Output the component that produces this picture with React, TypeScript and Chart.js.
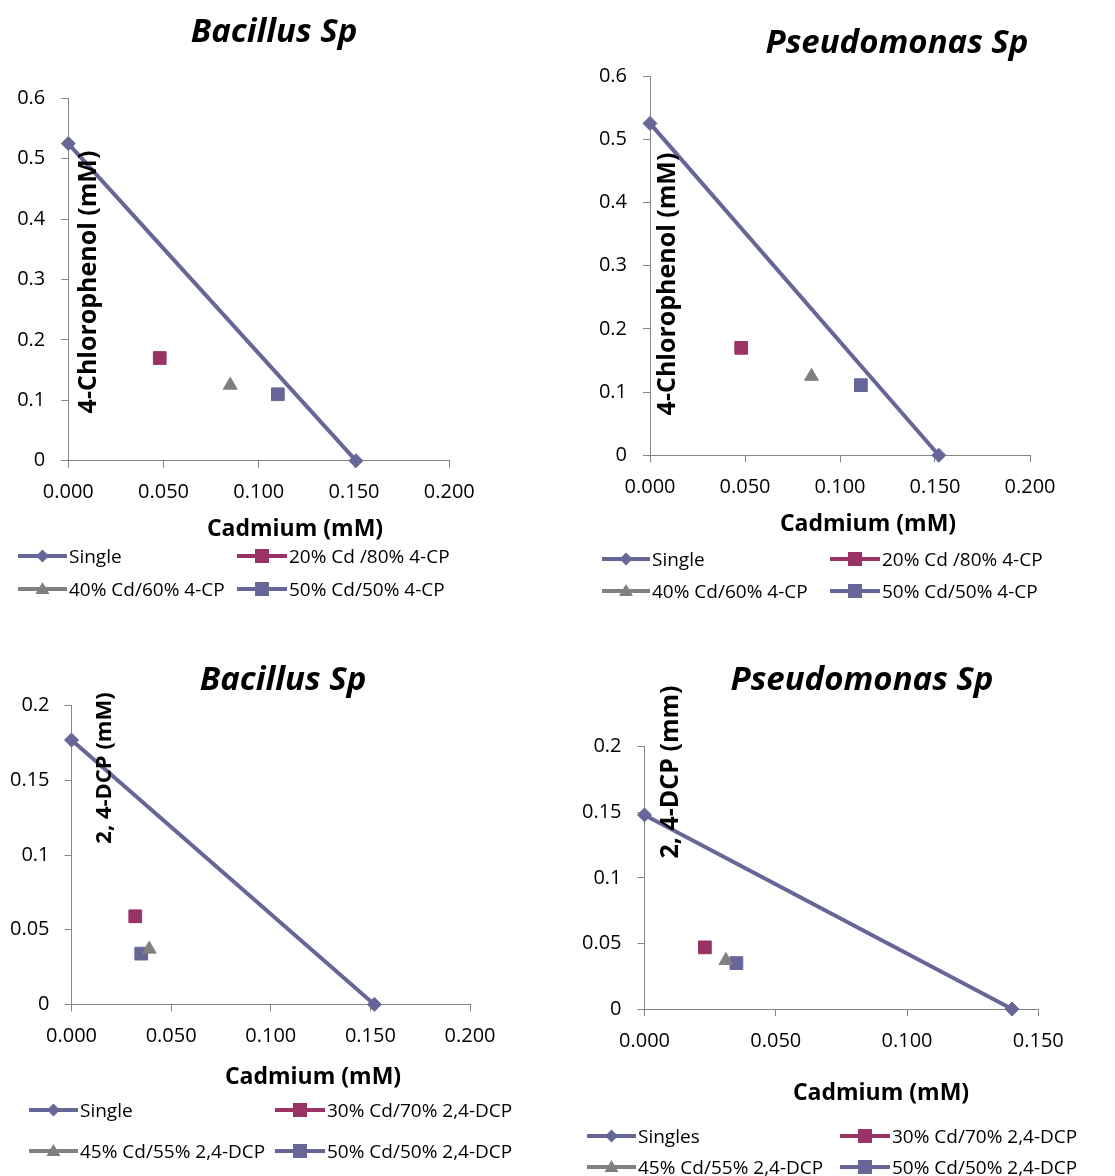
import React, { useEffect, useRef } from "react";
import { Chart, registerables } from "chart.js";

Chart.register(...registerables);

// ---------------- data ----------------
// Panel 1 – Bacillus Sp, Cd vs 4-CP
const bac4cpSingleCd = [0, 0.151];
const bac4cpSingleCP = [0.525, 0];
const bac4cpMixCd = [0.048, 0.085, 0.110];
const bac4cpMixCP = [0.170, 0.125, 0.110];

// Panel 2 – Pseudomonas Sp, Cd vs 4-CP
const pse4cpSingleCd = [0, 0.152];
const pse4cpSingleCP = [0.525, 0];
const pse4cpMixCd = [0.048, 0.085, 0.111];
const pse4cpMixCP = [0.170, 0.125, 0.111];

// Panel 3 – Bacillus Sp, Cd vs 2,4-DCP
const bacDcpSingleCd = [0, 0.152];
const bacDcpSingleDCP = [0.177, 0];
const bacDcpMixCd = [0.032, 0.039, 0.035];
const bacDcpMixDCP = [0.059, 0.037, 0.034];

// Panel 4 – Pseudomonas Sp, Cd vs 2,4-DCP
const pseDcpSingleCd = [0, 0.14];
const pseDcpSingleDCP = [0.148, 0];
const pseDcpMixCd = [0.023, 0.031, 0.035];
const pseDcpMixDCP = [0.047, 0.037, 0.035];

// labels
const legend4CP = ["Single", "20% Cd /80% 4-CP", "40% Cd/60% 4-CP", "50% Cd/50% 4-CP"];
const legendDcpBac = ["Single", "30% Cd/70% 2,4-DCP", "45% Cd/55% 2,4-DCP", "50% Cd/50% 2,4-DCP"];
const legendDcpPse = ["Singles", "30% Cd/70% 2,4-DCP", "45% Cd/55% 2,4-DCP", "50% Cd/50% 2,4-DCP"];
const panelTitles = ["Bacillus Sp", "Pseudomonas Sp", "Bacillus Sp", "Pseudomonas Sp"];
const xAxisTitle = "Cadmium (mM)";
const yAxisTitles = ["4-Chlorophenol (mM)", "4-Chlorophenol (mM)", "2, 4-DCP (mM)", "2, 4-DCP (mm)"];

// axis ranges / tick steps
const xMaxes = [0.2, 0.2, 0.2, 0.15];
const xStep = 0.05;
const yMaxes = [0.6, 0.6, 0.2, 0.2];
const ySteps = [0.1, 0.1, 0.05, 0.05];

// ---------------- styling ----------------
const FONT = "'Open Sans', 'DejaVu Sans', sans-serif";
const AXIS_GREY = "#868686";
const seriesColors = ["#666699", "#993366", "#808080", "#666699"];
const pointStyles = ["rectRot", "rect", "triangle", "rect"];
const pointRadii = [7, 9, 8, 9];
const X_AXIS_H = 50;

type Area = { l: number; r: number; t: number; b: number };
type TextItem = { text: string; x: number; y: number; font: string; rotate?: boolean };

const panelLayout = [
  {
    ox: 0, oy: 0, w: 557, h: 615,
    area: { l: 68.3, r: 449.3, t: 98.3, b: 460.7 },
    title: { x: 274, y: 42 }, xTitle: { x: 295, y: 536 }, yTitle: { x: 96, y: 282, size: 25 },
    xPad: 13, yPad: 16,
    legend: { rows: [556, 589], cols: [{ line: 18, text: 69 }, { line: 237, text: 289 }] },
  },
  {
    ox: 557, oy: 0, w: 558, h: 615,
    area: { l: 650, r: 1030, t: 76, b: 455.3 },
    title: { x: 897, y: 53 }, xTitle: { x: 868, y: 531 }, yTitle: { x: 675, y: 284, size: 25 },
    xPad: 13, yPad: 16,
    legend: { rows: [559, 591], cols: [{ line: 602, text: 652 }, { line: 830, text: 882 }] },
  },
  {
    ox: 0, oy: 620, w: 557, h: 556,
    area: { l: 71.5, r: 470, t: 705.7, b: 1004.4 },
    title: { x: 283, y: 690 }, xTitle: { x: 313, y: 1084 }, yTitle: { x: 111, y: 768, size: 22 },
    xPad: 13, yPad: 15,
    legend: { rows: [1110, 1151], cols: [{ line: 29, text: 80 }, { line: 275, text: 327 }] },
  },
  {
    ox: 557, oy: 620, w: 558, h: 556,
    area: { l: 644.5, r: 1038.3, t: 746.7, b: 1009 },
    title: { x: 862, y: 690 }, xTitle: { x: 881, y: 1100 }, yTitle: { x: 678, y: 772, size: 25 },
    xPad: 13, yPad: 16,
    legend: { rows: [1136, 1167], cols: [{ line: 587, text: 638 }, { line: 840, text: 892 }] },
  },
];

const panelData = [
  { sx: bac4cpSingleCd, sy: bac4cpSingleCP, mx: bac4cpMixCd, my: bac4cpMixCP, labels: legend4CP },
  { sx: pse4cpSingleCd, sy: pse4cpSingleCP, mx: pse4cpMixCd, my: pse4cpMixCP, labels: legend4CP },
  { sx: bacDcpSingleCd, sy: bacDcpSingleDCP, mx: bacDcpMixCd, my: bacDcpMixDCP, labels: legendDcpBac },
  { sx: pseDcpSingleCd, sy: pseDcpSingleDCP, mx: pseDcpMixCd, my: pseDcpMixDCP, labels: legendDcpPse },
];

function buildDatasets(sx: number[], sy: number[], mx: number[], my: number[], labels: string[]) {
  const ds: any[] = [
    {
      label: labels[0],
      data: sx.map((x, i) => ({ x, y: sy[i] })),
      showLine: true,
      borderColor: seriesColors[0],
      borderWidth: 4,
      backgroundColor: seriesColors[0],
      pointStyle: pointStyles[0],
      pointRadius: pointRadii[0],
      pointBackgroundColor: seriesColors[0],
      pointBorderColor: seriesColors[0],
      pointBorderWidth: 1,
      clip: false,
    },
  ];
  mx.forEach((x, i) => {
    const k = i + 1;
    ds.push({
      label: labels[k],
      data: [{ x, y: my[i] }],
      showLine: false,
      pointStyle: pointStyles[k],
      pointRadius: pointRadii[k],
      pointBackgroundColor: seriesColors[k],
      pointBorderColor: seriesColors[k],
      backgroundColor: seriesColors[k],
      borderColor: seriesColors[k],
      pointBorderWidth: 1,
      clip: false,
    });
  });
  return ds;
}

function makeTextPlugin(items: TextItem[]) {
  return {
    id: "panelText",
    afterDraw(chart: any) {
      const ctx = chart.ctx as CanvasRenderingContext2D;
      items.forEach((it) => {
        ctx.save();
        ctx.font = it.font;
        ctx.fillStyle = "#000";
        ctx.textAlign = "center";
        ctx.textBaseline = "alphabetic";
        ctx.translate(it.x, it.y);
        if (it.rotate) ctx.rotate(-Math.PI / 2);
        ctx.fillText(it.text, 0, 0);
        ctx.restore();
      });
    },
  };
}

function fmtY(v: number) {
  return String(parseFloat(Number(v).toFixed(3)));
}

function Panel({ idx }: { idx: number }) {
  const ref = useRef<HTMLCanvasElement | null>(null);
  const L = panelLayout[idx];
  useEffect(() => {
    if (!ref.current) return;
    const d = panelData[idx];
    const a: Area = L.area;
    const tickFont = { family: FONT, size: 20 };
    const items: TextItem[] = [
      { text: panelTitles[idx], x: L.title.x - L.ox, y: L.title.y - L.oy, font: `italic bold 33px ${FONT}` },
      { text: xAxisTitle, x: L.xTitle.x - L.ox, y: L.xTitle.y - L.oy, font: `bold 23px ${FONT}` },
      { text: yAxisTitles[idx], x: L.yTitle.x - L.ox, y: L.yTitle.y - L.oy, font: `bold ${L.yTitle.size}px ${FONT}`, rotate: true },
    ];
    const chart = new Chart(ref.current, {
      type: "scatter",
      data: { datasets: buildDatasets(d.sx, d.sy, d.mx, d.my, d.labels) },
      options: {
        animation: false,
        responsive: false,
        events: [],
        layout: {
          padding: {
            left: 0,
            top: a.t - L.oy,
            right: L.ox + L.w - a.r,
            bottom: L.oy + L.h - a.b - X_AXIS_H,
          },
        },
        plugins: {
          legend: { display: false },
          title: { display: false },
          tooltip: { enabled: false },
        },
        scales: {
          x: {
            type: "linear",
            position: "bottom",
            min: 0,
            max: xMaxes[idx],
            afterFit: (s: any) => {
              s.height = X_AXIS_H;
            },
            ticks: {
              stepSize: xStep,
              padding: L.xPad,
              color: "#000",
              font: tickFont,
              maxRotation: 0,
              callback: (v: any) => Number(v).toFixed(3),
            },
            grid: { drawOnChartArea: false, drawTicks: true, tickLength: 7, color: AXIS_GREY, lineWidth: 1 },
            border: { display: true, color: AXIS_GREY, width: 1 },
          },
          y: {
            type: "linear",
            position: "left",
            min: 0,
            max: yMaxes[idx],
            afterFit: (s: any) => {
              s.width = a.l - L.ox;
            },
            ticks: {
              stepSize: ySteps[idx],
              padding: L.yPad,
              color: "#000",
              font: tickFont,
              callback: (v: any) => fmtY(v),
            },
            grid: { drawOnChartArea: false, drawTicks: true, tickLength: 7, color: AXIS_GREY, lineWidth: 1 },
            border: { display: true, color: AXIS_GREY, width: 1 },
          },
        },
      } as any,
      plugins: [makeTextPlugin(items)],
    });
    return () => chart.destroy();
  }, [idx]);
  return (
    <canvas
      ref={ref}
      width={L.w}
      height={L.h}
      style={{ position: "absolute", left: L.ox, top: L.oy, width: L.w, height: L.h }}
    />
  );
}

function LegendIcon({ k, width }: { k: number; width: number }) {
  const c = seriesColors[k];
  const cx = width / 2;
  const cy = 10;
  let marker: React.ReactNode = null;
  if (pointStyles[k] === "rectRot") {
    marker = <polygon points={`${cx},${cy - 6.5} ${cx + 6.5},${cy} ${cx},${cy + 6.5} ${cx - 6.5},${cy}`} fill={c} />;
  } else if (pointStyles[k] === "rect") {
    marker = <rect x={cx - 7} y={cy - 7} width={14} height={14} fill={c} />;
  } else {
    marker = <polygon points={`${cx},${cy - 7} ${cx + 7},${cy + 5} ${cx - 7},${cy + 5}`} fill={c} />;
  }
  return (
    <svg width={width} height={20} style={{ display: "block", flex: "none" }}>
      <line x1={0} x2={width} y1={cy} y2={cy} stroke={c} strokeWidth={4} />
      {marker}
    </svg>
  );
}

function PanelLegend({ idx }: { idx: number }) {
  const L = panelLayout[idx];
  const labels = panelData[idx].labels;
  return (
    <>
      {labels.map((lab, k) => {
        const row = Math.floor(k / 2);
        const col = k % 2;
        const c = L.legend.cols[col];
        const y = L.legend.rows[row];
        return (
          <div
            key={k}
            style={{
              position: "absolute",
              left: c.line,
              top: y - 13,
              height: 26,
              display: "flex",
              alignItems: "center",
              whiteSpace: "nowrap",
              fontFamily: FONT,
              fontSize: 19,
              color: "#000",
              lineHeight: "26px",
            }}
          >
            <LegendIcon k={k} width={c.text - c.line - 2} />
            <span style={{ marginLeft: 2 }}>{lab}</span>
          </div>
        );
      })}
    </>
  );
}

export default function App() {
  return (
    <div
      style={{
        position: "absolute",
        left: 0,
        top: 0,
        width: 1115,
        height: 1176,
        background: "#fff",
        overflow: "hidden",
      }}
    >
      {[0, 1, 2, 3].map((i) => (
        <Panel key={i} idx={i} />
      ))}
      {[0, 1, 2, 3].map((i) => (
        <PanelLegend key={"l" + i} idx={i} />
      ))}
    </div>
  );
}
